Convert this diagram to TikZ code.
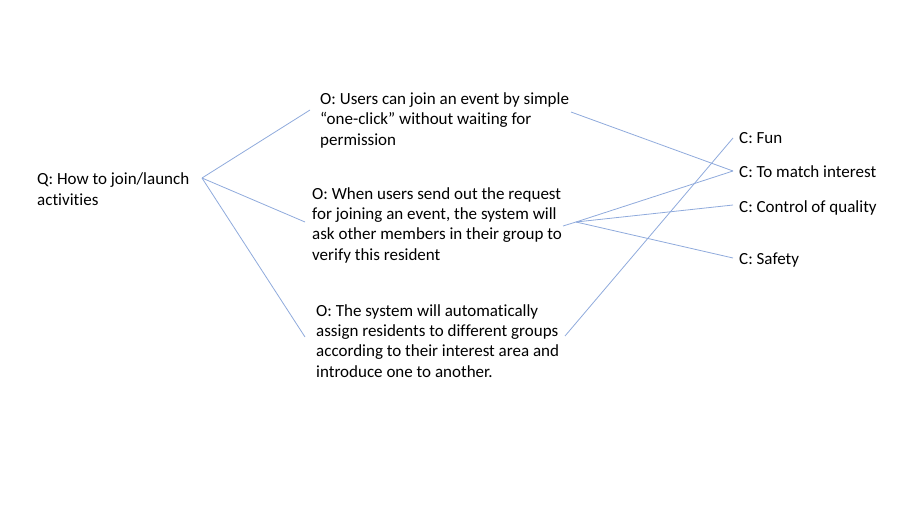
\documentclass[tikz,border=0pt]{standalone}
\usepackage{fontspec}
\setmainfont[Ligatures=NoCommon]{Carlito}
\definecolor{linkblue}{RGB}{143,170,220}
\tikzset{
  txt/.style={anchor=base west, inner sep=0pt, align=left, font=\fontsize{17}{20.3}\selectfont, text=black},
  link/.style={draw=linkblue, line width=0.8pt}
}
\begin{document}
\begin{tikzpicture}[x=1pt,y=-1pt]
\useasboundingbox (0,0) rectangle (900,506);
\node[txt] (q) at (37,205) {Q: How to join/launch\\activities};
\node[txt] (o1) at (320,145) {O: Users can join an event by simple\\“one-click” without waiting for\\permission};
\node[txt] (o2) at (312,260) {O: When users send out the request\\for joining an event, the system will\\ask other members in their group to\\verify this resident};
\node[txt] (o3) at (316,377) {O: The system will automatically\\assign residents to different groups\\according to their interest area and\\introduce one to another.};
\node[txt] (cfun) at (739,143.5) {C: Fun};
\node[txt] (cmatch) at (739,177) {C: To match interest};
\node[txt] (cqual) at (739,212.5) {C: Control of quality};
\node[txt] (csafe) at (739,264) {C: Safety};
\coordinate (qj) at (202,178);
\coordinate (o1l) at (310,110);
\coordinate (o2l) at (305,222);
\coordinate (o3l) at (305,337);
\coordinate (o1r) at (571,112);
\coordinate (o2r) at (563,226);
\coordinate (o2j) at (576,222);
\coordinate (o3r) at (565,336);
\coordinate (cfunl) at (733,138);
\coordinate (cmatchl) at (733,171);
\coordinate (cquall) at (733,205);
\coordinate (csafel) at (733,258);
\draw[link] (qj) -- (o1l);
\draw[link] (qj) -- (o2l);
\draw[link] (qj) -- (o3l);
\draw[link] (o1r) -- (cmatchl);
\draw[link] (o2r) -- (o2j);
\draw[link] (o2j) -- (cmatchl);
\draw[link] (o2j) -- (cquall);
\draw[link] (o2j) -- (csafel);
\draw[link] (o3r) -- (cfunl);
\end{tikzpicture}
\end{document}
